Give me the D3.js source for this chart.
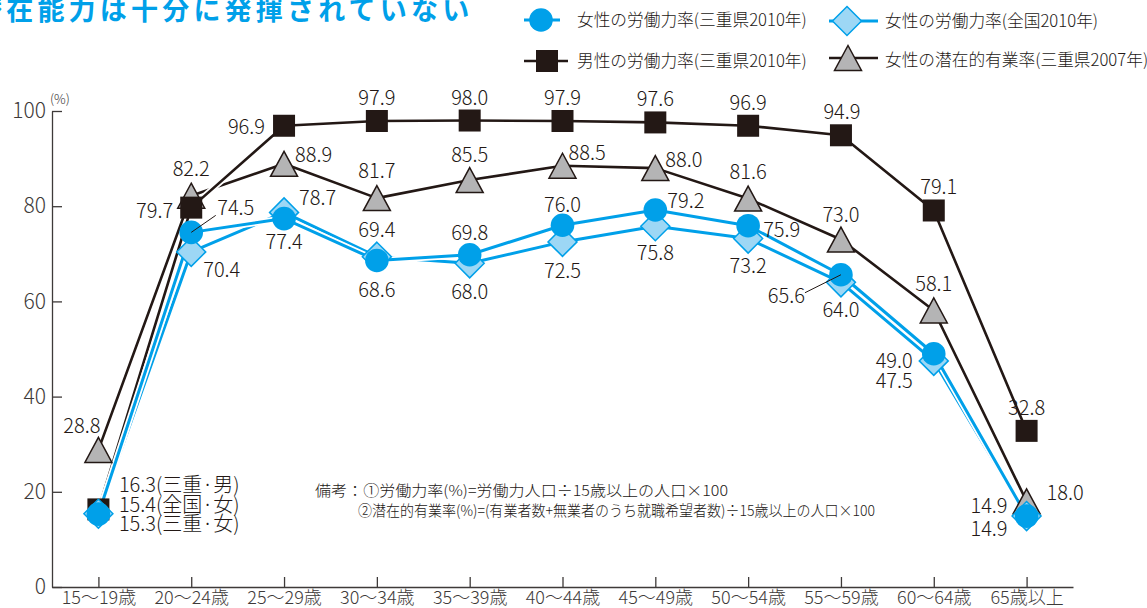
<!DOCTYPE html>
<html lang="ja">
<head>
<meta charset="utf-8">
<script src="https://cdn.jsdelivr.net/npm/d3@7"></script>
<style>
  html, body { margin: 0; padding: 0; background: #fff; }
  svg { display: block; font-family: "Noto Sans CJK JP", "Noto Sans", sans-serif; font-weight: 300; }
</style>
</head>
<body>
<svg id="chart" width="1147" height="608"></svg>
<script>
// 年齢階級別の労働力率・潜在的有業率
const categories = ["15〜19歳", "20〜24歳", "25〜29歳", "30〜34歳", "35〜39歳", "40〜44歳",
                    "45〜49歳", "50〜54歳", "55〜59歳", "60〜64歳", "65歳以上"];
const mieFemale      = [15.3, 74.5, 77.4, 68.6, 69.8, 76.0, 79.2, 75.9, 65.6, 49.0, 14.9];
const nationalFemale = [15.4, 70.4, 78.7, 69.4, 68.0, 72.5, 75.8, 73.2, 64.0, 47.5, 14.9];
const mieMale        = [16.3, 79.7, 96.9, 97.9, 98.0, 97.9, 97.6, 96.9, 94.9, 79.1, 32.8];
const miePotential   = [28.8, 82.2, 88.9, 81.7, 85.5, 88.5, 88.0, 81.6, 73.0, 58.1, 18.0];
const yTicks = [0, 20, 40, 60, 80, 100];

const seriesNames = ["女性の労働力率(三重県2010年)", "女性の労働力率(全国2010年)",
                     "男性の労働力率(三重県2010年)", "女性の潜在的有業率(三重県2007年)"];
const firstLabelTags = ["(三重·男)", "(全国·女)", "(三重·女)"];
const title = "潜在能力は十分に発揮されていない";
const notes = ["備考：①労働力率(%)=労働力人口÷15歳以上の人口×100",
               "②潜在的有業率(%)=(有業者数+無業者のうち就職希望者数)÷15歳以上の人口×100"];

const BLUE = "#00a0e9", LIGHTBLUE = "#9dd7f5", DARK = "#231815", GRAY = "#b4b4b5", TEXT = "#3e3a39";

const svg = d3.select("#chart");

const x = d3.scalePoint().domain(categories).range([52, 1073]).padding(0.5);
const y = d3.scaleLinear().domain([0, 100]).range([587, 111]);

// タイトル(左端は切れている)
svg.append("text")
  .attr("x", -25).attr("y", 20)
  .attr("fill", BLUE).attr("font-size", 27).attr("font-weight", 700)
  .attr("letter-spacing", 4.2)
  .text(title);

// 軸
const yAxis = svg.append("g").attr("transform", "translate(52,0)")
  .call(d3.axisLeft(y).tickValues(yTicks).tickSize(-10).tickSizeOuter(0).tickPadding(6));
const xAxis = svg.append("g").attr("transform", "translate(0,587)")
  .call(d3.axisBottom(x).tickSize(-10).tickSizeOuter(0).tickPadding(4));
[yAxis, xAxis].forEach(g => {
  g.selectAll("path, line").attr("stroke", TEXT).attr("stroke-width", 1.3);
  g.selectAll("text").attr("fill", TEXT).attr("font-family", "'Noto Sans CJK JP', sans-serif")
    .attr("font-weight", 300);
});
yAxis.selectAll("text").attr("font-size", 21);
xAxis.selectAll("text").attr("font-size", 18);
svg.append("text").attr("x", 50).attr("y", 104).attr("font-size", 13).attr("fill", TEXT).text("(%)");

// 折れ線(白フチ付き)
const line = d3.line().x((d, i) => x(categories[i])).y(d => y(d));
function drawLine(values, color, width) {
  svg.append("path").attr("d", line(values)).attr("fill", "none")
    .attr("stroke", "#fff").attr("stroke-width", width + 3.5).attr("stroke-linejoin", "round");
  svg.append("path").attr("d", line(values)).attr("fill", "none")
    .attr("stroke", color).attr("stroke-width", width).attr("stroke-linejoin", "round");
}
drawLine(miePotential, DARK, 2.6);
drawLine(mieMale, DARK, 2.6);
drawLine(nationalFemale, BLUE, 3);
drawLine(mieFemale, BLUE, 3);

// マーカー
const tri = (w, h) => `M0,${-h / 2}L${w / 2},${h / 2}L${-w / 2},${h / 2}Z`;
const dia = r => `M0,${-r}L${r},0L0,${r}L${-r},0Z`;
function marker(g, kind) {
  if (kind === "circle") g.append("circle").attr("r", 11.8).attr("fill", BLUE);
  if (kind === "diamond") g.append("path").attr("d", dia(14.5)).attr("fill", LIGHTBLUE)
      .attr("stroke", BLUE).attr("stroke-width", 1.5);
  if (kind === "square") g.append("rect").attr("x", -11).attr("y", -11).attr("width", 22).attr("height", 22)
      .attr("fill", DARK);
  if (kind === "triangle") g.append("path").attr("d", tri(27, 25)).attr("fill", GRAY)
      .attr("stroke", DARK).attr("stroke-width", 1.5);
}
function drawMarkers(values, kind) {
  values.forEach((v, i) => {
    const g = svg.append("g").attr("transform", `translate(${x(categories[i])},${y(v)})`);
    marker(g, kind);
  });
}
drawMarkers(miePotential, "triangle");
drawMarkers(mieMale, "square");
drawMarkers(nationalFemale, "diamond");
drawMarkers(mieFemale, "circle");

// 数値ラベルの配置 [dx, dy, anchor, 引出線の端点dx, dy]
const M = "middle", S = "start", E = "end";
const malePlace = [null, [-18, 10.5, E], [-19, 8, E], [0, -16, M], [0, -16, M], [0, -16, M],
                   [0, -16, M], [0, -16, M], [1, -16, M], [5, -16, M], [0, -16, M]];
const potentialPlace = [[2, -17, E], [0, -20, M], [11, -2, S], [0, -20, M], [0, -18, M], [6, -6, S],
                        [10, -1, S], [0, -20, M], [0, -17.5, M], [0, -19, M], [20, -1, S]];
const mieFemalePlace = [null, [26, -17, S, 24.5, -17], [0, 30, M], [0, 36.5, M], [0, -15, M], [0, -13, M],
                        [12, -2, S], [15, 11, S], [-36, 28, E, -36, 18], [-21, 14, E], [-19, -3, E]];
const nationalPlace = [null, [12, 25, S], [15, -7, S], [0, -20, M], [0, 36, M], [0, 36, M],
                       [0, 34, M], [0, 34.5, M], [0, 34.6, M], [-21, 27, E], [-19, 20, E]];

function drawLabels(values, places) {
  values.forEach((v, i) => {
    const p = places[i];
    if (!p) return;
    const cx = x(categories[i]), cy = y(v);
    if (p.length > 3) {
      svg.append("line").attr("x1", cx).attr("y1", cy).attr("x2", cx + p[3]).attr("y2", cy + p[4])
        .attr("stroke", DARK).attr("stroke-width", 1);
    }
    svg.append("text").attr("x", cx + p[0]).attr("y", cy + p[1]).attr("text-anchor", p[2])
      .attr("font-size", 20).attr("fill", DARK).text(v.toFixed(1));
  });
}
drawLabels(miePotential, potentialPlace);
drawLabels(mieMale, malePlace);
drawLabels(nationalFemale, nationalPlace);
drawLabels(mieFemale, mieFemalePlace);

// 15〜19歳の3系列まとめラベル
const firstVals = [mieMale[0], nationalFemale[0], mieFemale[0]];
const baseY = y(mieFemale[0]);
[-22, -2.5, 17].forEach((dy, k) => {
  svg.append("text").attr("x", x(categories[0]) + 20.5).attr("y", baseY + dy)
    .attr("font-size", 20).attr("fill", DARK)
    .text(firstVals[k].toFixed(1) + firstLabelTags[k]);
});

// 備考
svg.append("text").attr("x", 315).attr("y", 496).attr("font-size", 15).attr("fill", DARK)
  .attr("textLength", 413).attr("lengthAdjust", "spacingAndGlyphs").text(notes[0]);
svg.append("text").attr("x", 358).attr("y", 516).attr("font-size", 15).attr("fill", DARK)
  .attr("textLength", 517).attr("lengthAdjust", "spacingAndGlyphs").text(notes[1]);

// 凡例
const legendItems = [
  { kind: "circle",   color: BLUE, lx: 524, lw: 36, mx: 541, my: 20, tx: 577, ty: 26 },
  { kind: "diamond",  color: BLUE, lx: 829, lw: 49, mx: 847, my: 21, tx: 885, ty: 27 },
  { kind: "square",   color: DARK, lx: 524, lw: 44, mx: 547, my: 61, tx: 577, ty: 67 },
  { kind: "triangle", color: DARK, lx: 829, lw: 49, mx: 848, my: 58, tx: 885, ty: 66 }
];
legendItems.forEach((it, i) => {
  svg.append("line").attr("x1", it.lx).attr("x2", it.lx + it.lw).attr("y1", it.my).attr("y2", it.my)
    .attr("stroke", it.color).attr("stroke-width", it.kind === "triangle" || it.kind === "square" ? 2.6 : 3);
  const g = svg.append("g").attr("transform", `translate(${it.mx},${it.my})`);
  marker(g, it.kind);
  svg.append("text").attr("x", it.tx).attr("y", it.ty).attr("font-size", 16.7).attr("fill", DARK)
    .text(seriesNames[i]);
});
</script>
</body>
</html>
